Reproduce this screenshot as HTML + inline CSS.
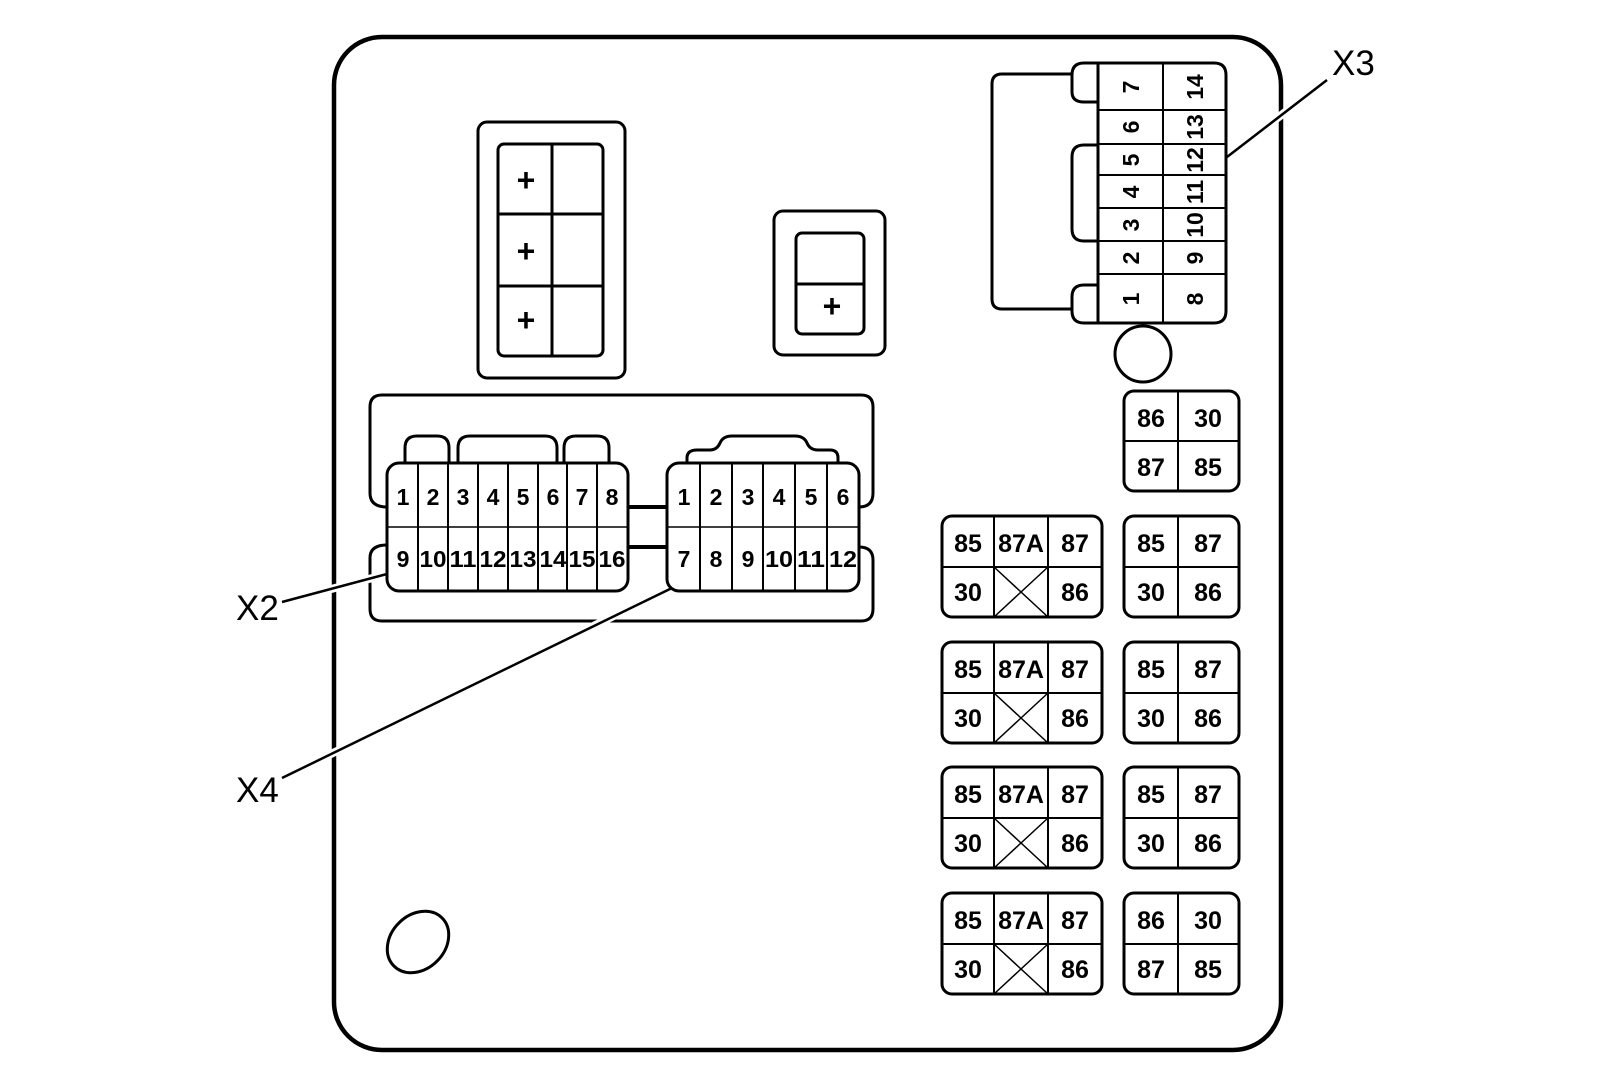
<!DOCTYPE html>
<html><head><meta charset="utf-8"><style>
html,body{margin:0;padding:0;background:#fff}
svg{display:block}
text{font-family:"Liberation Sans",sans-serif;fill:#000}
.p{font-size:23px;text-anchor:middle;font-weight:bold}
.r{font-size:25px;text-anchor:middle;font-weight:bold}
.l{font-size:35px}
</style></head><body>
<svg width="1600" height="1084" viewBox="0 0 1600 1084" xmlns="http://www.w3.org/2000/svg">
<g fill="none" stroke="#000" stroke-linejoin="round">
<rect x="334" y="37" width="947" height="1013" rx="48" stroke-width="4.5"/>
<ellipse cx="418" cy="942" rx="34" ry="27" transform="rotate(-45 418 942)" stroke-width="3"/>
<rect x="478" y="122" width="147" height="256" rx="9" stroke-width="3"/>
<rect x="498" y="144" width="105" height="212" rx="6" stroke-width="3"/>
<line x1="552" y1="144" x2="552" y2="356" stroke-width="3"/>
<line x1="498" y1="214" x2="603" y2="214" stroke-width="3"/>
<line x1="498" y1="286" x2="603" y2="286" stroke-width="3"/>
<rect x="774" y="211" width="111" height="144" rx="9" stroke-width="3"/>
<rect x="796" y="233" width="68" height="101" rx="6" stroke-width="3"/>
<line x1="796" y1="284" x2="864" y2="284" stroke-width="3"/>
<path d="M1072 74 H1002 Q992 74 992 84 V299 Q992 309 1002 309 H1072" stroke-width="3"/>
<path d="M1098 63 H1084 Q1072 63 1072 75 V92 Q1072 102 1084 102 H1098" stroke-width="3"/>
<path d="M1098 145 H1084 Q1072 145 1072 157 V229 Q1072 241 1084 241 H1098" stroke-width="3"/>
<path d="M1098 285 H1084 Q1072 285 1072 297 V311 Q1072 323 1084 323 H1098" stroke-width="3"/>
<path d="M1098 63 H1214 Q1226 63 1226 75 V311 Q1226 323 1214 323 H1098 Z" stroke-width="3"/>
<line x1="1163" y1="63" x2="1163" y2="323" stroke-width="2"/>
<g stroke-width="2"><line x1="1098" y1="110" x2="1226" y2="110"/><line x1="1098" y1="144" x2="1226" y2="144"/><line x1="1098" y1="175" x2="1226" y2="175"/><line x1="1098" y1="208" x2="1226" y2="208"/><line x1="1098" y1="241" x2="1226" y2="241"/><line x1="1098" y1="274" x2="1226" y2="274"/></g>
<circle cx="1143" cy="354" r="28" stroke-width="3"/>
<path d="M387 507 Q370 507 370 493 V407 Q370 395 382 395 H861 Q873 395 873 407 V493 Q873 507 859 507" stroke-width="3"/>
<path d="M387 545 Q370 545 370 558 V609 Q370 621 382 621 H861 Q873 621 873 609 V560 Q873 547 859 547" stroke-width="3"/>
<path d="M405 463 V448 Q405 436 417 436 H437 Q449 436 449 448 V463" stroke-width="3"/>
<path d="M458 463 V448 Q458 436 470 436 H545 Q557 436 557 448 V463" stroke-width="3"/>
<path d="M564 463 V448 Q564 436 576 436 H597 Q609 436 609 448 V463" stroke-width="3"/>
<path d="M687 463 V458 Q687 450 697 450 H710 Q717 450 720 443 Q723 436 732 436 H795 Q804 436 807 443 Q810 450 818 450 H830 Q838 450 838 458 V463" stroke-width="3"/>
<line x1="628" y1="507" x2="667" y2="507" stroke-width="4"/>
<line x1="628" y1="547" x2="667" y2="547" stroke-width="4"/>
<rect x="387" y="463" width="241" height="128" rx="12" stroke-width="3"/>
<line x1="387" y1="527" x2="628" y2="527" stroke-width="1.5"/>
<g stroke-width="2"><line x1="418" y1="463" x2="418" y2="591"/><line x1="448" y1="463" x2="448" y2="591"/><line x1="478" y1="463" x2="478" y2="591"/><line x1="508" y1="463" x2="508" y2="591"/><line x1="538" y1="463" x2="538" y2="591"/><line x1="567" y1="463" x2="567" y2="591"/><line x1="597" y1="463" x2="597" y2="591"/></g>
<rect x="667" y="463" width="192" height="128" rx="12" stroke-width="3"/>
<line x1="667" y1="527" x2="859" y2="527" stroke-width="1.5"/>
<g stroke-width="2"><line x1="700" y1="463" x2="700" y2="591"/><line x1="732" y1="463" x2="732" y2="591"/><line x1="763" y1="463" x2="763" y2="591"/><line x1="795" y1="463" x2="795" y2="591"/><line x1="827" y1="463" x2="827" y2="591"/></g>
<g stroke="#fff" stroke-width="8">
<line x1="290" y1="600" x2="380" y2="576"/><line x1="290" y1="774" x2="665" y2="591"/><line x1="1235" y1="151" x2="1320" y2="85"/>
</g>
<g stroke-width="2.5">
<line x1="282" y1="602" x2="387" y2="574"/><line x1="282" y1="778" x2="672" y2="588"/><line x1="1227" y1="157" x2="1327" y2="80"/>
</g>
</g>
<g fill="none" stroke="#000">
<g><rect x="942" y="516" width="160" height="101" rx="10" stroke-width="3"/><line x1="994" y1="516" x2="994" y2="617" stroke-width="2"/><line x1="1048" y1="516" x2="1048" y2="617" stroke-width="2"/><line x1="942" y1="567" x2="1102" y2="567" stroke-width="2"/><line x1="994" y1="567" x2="1048" y2="617" stroke-width="1.5"/><line x1="1048" y1="567" x2="994" y2="617" stroke-width="1.5"/></g>
<g transform="translate(0,126)"><rect x="942" y="516" width="160" height="101" rx="10" stroke-width="3"/><line x1="994" y1="516" x2="994" y2="617" stroke-width="2"/><line x1="1048" y1="516" x2="1048" y2="617" stroke-width="2"/><line x1="942" y1="567" x2="1102" y2="567" stroke-width="2"/><line x1="994" y1="567" x2="1048" y2="617" stroke-width="1.5"/><line x1="1048" y1="567" x2="994" y2="617" stroke-width="1.5"/></g>
<g transform="translate(0,251)"><rect x="942" y="516" width="160" height="101" rx="10" stroke-width="3"/><line x1="994" y1="516" x2="994" y2="617" stroke-width="2"/><line x1="1048" y1="516" x2="1048" y2="617" stroke-width="2"/><line x1="942" y1="567" x2="1102" y2="567" stroke-width="2"/><line x1="994" y1="567" x2="1048" y2="617" stroke-width="1.5"/><line x1="1048" y1="567" x2="994" y2="617" stroke-width="1.5"/></g>
<g transform="translate(0,377)"><rect x="942" y="516" width="160" height="101" rx="10" stroke-width="3"/><line x1="994" y1="516" x2="994" y2="617" stroke-width="2"/><line x1="1048" y1="516" x2="1048" y2="617" stroke-width="2"/><line x1="942" y1="567" x2="1102" y2="567" stroke-width="2"/><line x1="994" y1="567" x2="1048" y2="617" stroke-width="1.5"/><line x1="1048" y1="567" x2="994" y2="617" stroke-width="1.5"/></g>
<g transform="translate(0,-125)"><rect x="1124" y="516" width="115" height="100" rx="10" stroke-width="3"/><line x1="1178" y1="516" x2="1178" y2="616" stroke-width="2"/><line x1="1124" y1="566" x2="1239" y2="566" stroke-width="2"/></g>
<g><rect x="1124" y="516" width="115" height="101" rx="10" stroke-width="3"/><line x1="1178" y1="516" x2="1178" y2="617" stroke-width="2"/><line x1="1124" y1="567" x2="1239" y2="567" stroke-width="2"/></g>
<g transform="translate(0,126)"><rect x="1124" y="516" width="115" height="101" rx="10" stroke-width="3"/><line x1="1178" y1="516" x2="1178" y2="617" stroke-width="2"/><line x1="1124" y1="567" x2="1239" y2="567" stroke-width="2"/></g>
<g transform="translate(0,251)"><rect x="1124" y="516" width="115" height="101" rx="10" stroke-width="3"/><line x1="1178" y1="516" x2="1178" y2="617" stroke-width="2"/><line x1="1124" y1="567" x2="1239" y2="567" stroke-width="2"/></g>
<g transform="translate(0,377)"><rect x="1124" y="516" width="115" height="101" rx="10" stroke-width="3"/><line x1="1178" y1="516" x2="1178" y2="617" stroke-width="2"/><line x1="1124" y1="567" x2="1239" y2="567" stroke-width="2"/></g>
</g>
<g font-size="32" text-anchor="middle" font-family="Liberation Sans" font-weight="bold">
<text x="526" y="191">+</text><text x="526" y="262">+</text><text x="526" y="331">+</text><text x="832" y="317">+</text>
</g>
<g>
<text class="p" x="403" y="505">1</text><text class="p" x="433" y="505">2</text><text class="p" x="463" y="505">3</text><text class="p" x="493" y="505">4</text><text class="p" x="523" y="505">5</text><text class="p" x="553" y="505">6</text><text class="p" x="582" y="505">7</text><text class="p" x="612" y="505">8</text>
<text class="p" x="403" y="567">9</text><text class="p" x="433" y="567" textLength="27" lengthAdjust="spacingAndGlyphs">10</text><text class="p" x="463" y="567" textLength="27" lengthAdjust="spacingAndGlyphs">11</text><text class="p" x="493" y="567" textLength="27" lengthAdjust="spacingAndGlyphs">12</text><text class="p" x="523" y="567" textLength="27" lengthAdjust="spacingAndGlyphs">13</text><text class="p" x="553" y="567" textLength="27" lengthAdjust="spacingAndGlyphs">14</text><text class="p" x="582" y="567" textLength="27" lengthAdjust="spacingAndGlyphs">15</text><text class="p" x="612" y="567" textLength="27" lengthAdjust="spacingAndGlyphs">16</text>
<text class="p" x="684" y="505">1</text><text class="p" x="716" y="505">2</text><text class="p" x="748" y="505">3</text><text class="p" x="779" y="505">4</text><text class="p" x="811" y="505">5</text><text class="p" x="843" y="505">6</text>
<text class="p" x="684" y="567">7</text><text class="p" x="716" y="567">8</text><text class="p" x="748" y="567">9</text><text class="p" x="779" y="567" textLength="28" lengthAdjust="spacingAndGlyphs">10</text><text class="p" x="811" y="567" textLength="28" lengthAdjust="spacingAndGlyphs">11</text><text class="p" x="843" y="567" textLength="28" lengthAdjust="spacingAndGlyphs">12</text>
</g>
<g>
<text class="p" transform="translate(1139,87) rotate(-90)">7</text>
<text class="p" transform="translate(1139,127) rotate(-90)">6</text>
<text class="p" transform="translate(1139,160) rotate(-90)">5</text>
<text class="p" transform="translate(1139,192) rotate(-90)">4</text>
<text class="p" transform="translate(1139,225) rotate(-90)">3</text>
<text class="p" transform="translate(1139,258) rotate(-90)">2</text>
<text class="p" transform="translate(1139,299) rotate(-90)">1</text>
<text class="p" transform="translate(1203,87) rotate(-90)">14</text>
<text class="p" transform="translate(1203,127) rotate(-90)">13</text>
<text class="p" transform="translate(1203,160) rotate(-90)">12</text>
<text class="p" transform="translate(1203,192) rotate(-90)">11</text>
<text class="p" transform="translate(1203,225) rotate(-90)">10</text>
<text class="p" transform="translate(1203,258) rotate(-90)">9</text>
<text class="p" transform="translate(1203,299) rotate(-90)">8</text>
</g>
<g>
<text class="r" x="968" y="552">85</text><text class="r" x="1021" y="552">87A</text><text class="r" x="1075" y="552">87</text><text class="r" x="968" y="601">30</text><text class="r" x="1075" y="601">86</text>
<text class="r" x="968" y="678">85</text><text class="r" x="1021" y="678">87A</text><text class="r" x="1075" y="678">87</text><text class="r" x="968" y="727">30</text><text class="r" x="1075" y="727">86</text>
<text class="r" x="968" y="803">85</text><text class="r" x="1021" y="803">87A</text><text class="r" x="1075" y="803">87</text><text class="r" x="968" y="852">30</text><text class="r" x="1075" y="852">86</text>
<text class="r" x="968" y="929">85</text><text class="r" x="1021" y="929">87A</text><text class="r" x="1075" y="929">87</text><text class="r" x="968" y="978">30</text><text class="r" x="1075" y="978">86</text>
<text class="r" x="1151" y="427">86</text><text class="r" x="1208" y="427">30</text><text class="r" x="1151" y="476">87</text><text class="r" x="1208" y="476">85</text>
<text class="r" x="1151" y="552">85</text><text class="r" x="1208" y="552">87</text><text class="r" x="1151" y="601">30</text><text class="r" x="1208" y="601">86</text>
<text class="r" x="1151" y="678">85</text><text class="r" x="1208" y="678">87</text><text class="r" x="1151" y="727">30</text><text class="r" x="1208" y="727">86</text>
<text class="r" x="1151" y="803">85</text><text class="r" x="1208" y="803">87</text><text class="r" x="1151" y="852">30</text><text class="r" x="1208" y="852">86</text>
<text class="r" x="1151" y="929">86</text><text class="r" x="1208" y="929">30</text><text class="r" x="1151" y="978">87</text><text class="r" x="1208" y="978">85</text>
</g>
<text class="l" x="236" y="620">X2</text>
<text class="l" x="236" y="802">X4</text>
<text class="l" x="1332" y="75">X3</text>
</svg>
</body></html>
